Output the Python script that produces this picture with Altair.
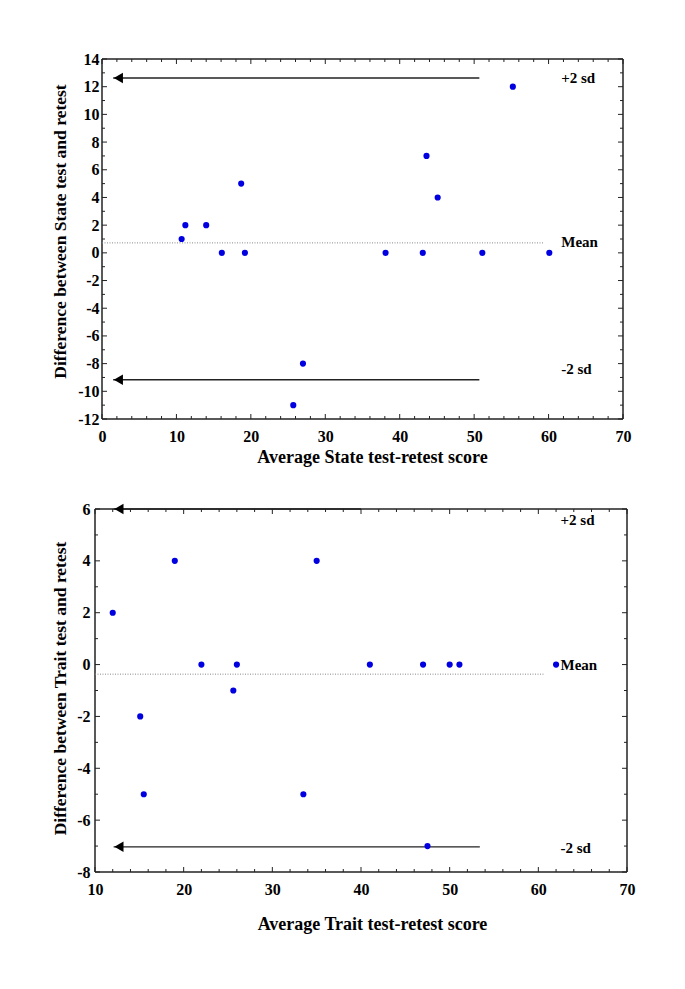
import altair as alt
import pandas as pd

FONT = "Liberation Serif"
BLUE = "#0000e0"
INK = "#222222"

# ---------------- State panel (top) ----------------
state_avg = [10.7, 11.2, 14.0, 16.1, 18.7, 19.2, 25.7, 27.0, 38.1, 43.1, 43.6, 45.1, 51.1, 55.2, 60.1]
state_diff = [1, 2, 2, 0, 5, 0, -11, -8, 0, 0, 7, 4, 0, 12, 0]
state_mean = 0.72
state_mean_x = [0, 59.4]
state_sd_y = [12.63, -9.16]
state_sd_x = [1.5, 50.7]
state_arrow_x = [2.2, 2.2]
state_label_text = ["+2 sd", "Mean", "-2 sd"]
state_label_x = [61.7, 61.7, 61.7]
state_label_y = [12.6, 0.8, -8.4]
state_x_major = [0, 10, 20, 30, 40, 50, 60, 70]
state_x_minor = [2, 4, 6, 8, 12, 14, 16, 18, 22, 24, 26, 28, 32, 34, 36, 38,
                 42, 44, 46, 48, 52, 54, 56, 58, 62, 64, 66, 68]
state_y_major = [-12, -10, -8, -6, -4, -2, 0, 2, 4, 6, 8, 10, 12, 14]
state_y_minor = [-11, -9, -7, -5, -3, -1, 1, 3, 5, 7, 9, 11, 13]

# ---------------- Trait panel (bottom) ----------------
trait_avg = [12.0, 15.1, 15.5, 19.0, 22.0, 25.6, 26.0, 33.5, 35.0, 41.0, 47.0, 47.5, 50.0, 51.1, 62.0]
trait_diff = [2, -2, -5, 4, 0, -1, 0, -5, 4, 0, 0, -7, 0, 0, 0]
trait_mean = -0.37
trait_mean_x = [10, 60.6]
trait_sd_y = [6.0, -7.03]
trait_sd_x_start = [12.1, 12.1]
trait_sd_x_end = [40.0, 53.4]
trait_arrow_x = [12.7, 12.7]
trait_label_text = ["+2 sd", "Mean", "-2 sd"]
trait_label_x = [62.5, 62.5, 62.5]
trait_label_y = [5.58, 0.0, -7.07]
trait_x_major = [10, 20, 30, 40, 50, 60, 70]
trait_x_minor = [12, 14, 16, 18, 22, 24, 26, 28, 32, 34, 36, 38,
                 42, 44, 46, 48, 52, 54, 56, 58, 62, 64, 66, 68]
trait_y_major = [-8, -6, -4, -2, 0, 2, 4, 6]
trait_y_minor = [-7, -5, -3, -1, 1, 3, 5]


def panel(avg, diff, xdom, ydom, xmaj, xmin, ymaj, ymin,
          mean, mean_x, sd_y, sd_x0, sd_x1, arrow_x,
          lab_t, lab_x, lab_y, xtitle, ytitle, W, H, inset,
          title_x, x_title_pad, y_label_pad, y_title_x, y_title_y):
    # the framed plot box starts `inset` px right of the view's left edge
    VW = W + inset
    px_per_unit = W / (xdom[1] - xdom[0])
    x_lo = xdom[0] - inset / px_per_unit

    xaxis = alt.Axis(values=xmaj, labelExpr="toString(datum.value)", ticks=False,
                     domain=False, grid=False,
                     labelFont=FONT, labelFontWeight="bold", labelFontSize=16,
                     labelColor="black", labelPadding=9, labelFlush=False,
                     titleFont=FONT, titleFontWeight="bold", titleFontSize=18,
                     titleColor="black", titlePadding=x_title_pad, titleX=title_x)
    yaxis = alt.Axis(values=ymaj, labelExpr="toString(datum.value)", ticks=False,
                     domain=False, grid=False, offset=-inset,
                     labelFont=FONT, labelFontWeight="bold", labelFontSize=16,
                     labelColor="black", labelPadding=y_label_pad, labelFlush=False,
                     titleFont=FONT, titleFontWeight="bold", titleFontSize=17.5,
                     titleColor="black", titleX=y_title_x, titleY=y_title_y,
                     titleAngle=270, titleBaseline="middle", titleAlign="center")
    xs = alt.Scale(domain=[x_lo, xdom[1]], nice=False, zero=False)
    ys = alt.Scale(domain=ydom, nice=False, zero=False)

    def X(f):
        return alt.X(f, type="quantitative", scale=xs, axis=xaxis, title=xtitle)

    def Y(f):
        return alt.Y(f, type="quantitative", scale=ys, axis=yaxis, title=ytitle)

    one = pd.DataFrame({"k": [0]})
    frame = [
        alt.Chart(one).mark_rule(color=INK, strokeWidth=1.5).encode(
            x=alt.value(inset), y=alt.value(0), y2=alt.value(H)),
        alt.Chart(one).mark_rule(color=INK, strokeWidth=1.5).encode(
            x=alt.value(VW), y=alt.value(0), y2=alt.value(H)),
        alt.Chart(one).mark_rule(color=INK, strokeWidth=1.5).encode(
            x=alt.value(inset), x2=alt.value(VW), y=alt.value(0)),
        alt.Chart(one).mark_rule(color=INK, strokeWidth=1.5).encode(
            x=alt.value(inset), x2=alt.value(VW), y=alt.value(H)),
    ]

    pts = alt.Chart(pd.DataFrame({"a": avg, "d": diff})).mark_circle(
        size=38, color=BLUE, opacity=1).encode(x=X("a"), y=Y("d"))

    mean_rule = alt.Chart(pd.DataFrame({"a": [mean_x[0]], "a2": [mean_x[1]], "d": [mean]})).mark_rule(
        color="#888888", strokeWidth=1, strokeDash=[1, 1.5]).encode(x=X("a"), x2="a2", y=Y("d"))

    sd_rule = alt.Chart(pd.DataFrame({"a": sd_x0, "a2": sd_x1, "d": sd_y})).mark_rule(
        color=INK, strokeWidth=1.4).encode(x=X("a"), x2="a2", y=Y("d"))

    arrows = alt.Chart(pd.DataFrame({"a": arrow_x, "d": sd_y})).mark_point(
        shape="triangle-left", filled=True, color="black", size=110, opacity=1).encode(x=X("a"), y=Y("d"))

    labels = alt.Chart(pd.DataFrame({"a": lab_x, "d": lab_y, "t": lab_t})).mark_text(
        align="left", baseline="middle", font=FONT, fontWeight="bold", fontSize=15,
        color="black").encode(x=X("a"), y=Y("d"), text="t")

    def xticks(vals, ln):
        df = pd.DataFrame({"a": vals})
        b = alt.Chart(df).mark_rule(color=INK, strokeWidth=1).encode(
            x=X("a"), y=alt.value(H), y2=alt.value(H - ln))
        t = alt.Chart(df).mark_rule(color=INK, strokeWidth=1).encode(
            x=X("a"), y=alt.value(0), y2=alt.value(ln))
        return [b, t]

    def yticks(vals, ln):
        df = pd.DataFrame({"d": vals})
        l = alt.Chart(df).mark_rule(color=INK, strokeWidth=1).encode(
            y=Y("d"), x=alt.value(inset), x2=alt.value(inset + ln))
        r = alt.Chart(df).mark_rule(color=INK, strokeWidth=1).encode(
            y=Y("d"), x=alt.value(VW), x2=alt.value(VW - ln))
        return [l, r]

    layers = (frame + xticks(xmaj, 5) + xticks(xmin, 3) + yticks(ymaj, 5) + yticks(ymin, 3)
              + [mean_rule, sd_rule, arrows, pts, labels])
    return alt.layer(*layers).properties(width=VW, height=H,
                                         view=alt.ViewBackground(stroke=None))


top = panel(state_avg, state_diff, [0, 70], [-12, 14],
            state_x_major, state_x_minor, state_y_major, state_y_minor,
            state_mean, state_mean_x, state_sd_y, [state_sd_x[0]] * 2, [state_sd_x[1]] * 2,
            state_arrow_x, state_label_text, state_label_x, state_label_y,
            "Average State test-retest score", "Difference between State test and retest",
            521, 360, 7, 277, 4, 3, -42, 172)

bottom = panel(trait_avg, trait_diff, [10, 70], [-8, 6],
               trait_x_major, trait_x_minor, trait_y_major, trait_y_minor,
               trait_mean, trait_mean_x, trait_sd_y, trait_sd_x_start, trait_sd_x_end,
               trait_arrow_x, trait_label_text, trait_label_x, trait_label_y,
               "Average Trait test-retest score", "Difference between Trait test and retest",
               532, 363, 0, 277, 18, 5, -35, 179)

chart = alt.vconcat(top, bottom, spacing=35).properties(
    padding={"top": 43, "left": 42, "right": 5, "bottom": 5}
).configure_view(stroke=None).configure(background="white")

chart.save("out.html", embed_options={"renderer": "svg", "actions": False})
